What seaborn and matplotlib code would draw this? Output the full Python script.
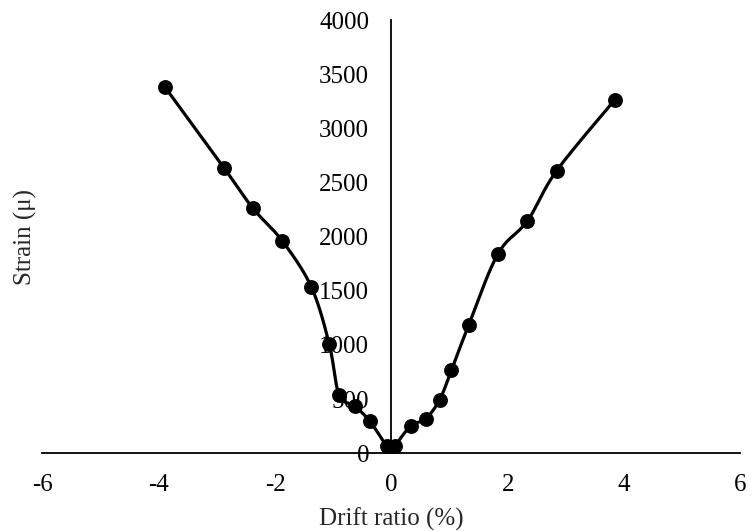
import numpy as np
import pandas as pd
import matplotlib
matplotlib.use("Agg")
import matplotlib.pyplot as plt
import seaborn as sns

# data (drift ratio %, strain micro)
drift = [-3.9, -2.88, -2.38, -1.88, -1.38, -1.07, -0.9, -0.63, -0.37, -0.08, 0.0,
         0.06, 0.33, 0.59, 0.83, 1.03, 1.33, 1.83, 2.34, 2.84, 3.84]
strain = [3385, 2636, 2261, 1963, 1539, 1011, 541, 436, 295, 64, 5,
          65, 252, 320, 495, 765, 1186, 1840, 2147, 2608, 3263]
xticks = [-6, -4, -2, 0, 2, 4, 6]
yticks = [0, 500, 1000, 1500, 2000, 2500, 3000, 3500, 4000]

df = pd.DataFrame({"drift": drift, "strain": strain})

sns.set_style("white")
plt.rcParams['font.family'] = ['Liberation Serif', 'DejaVu Serif']
plt.rcParams['axes.unicode_minus'] = False


def smooth(x, y, n=20):
    # catmull-rom style curve through the points (like Excel smoothed line)
    x = np.asarray(x, float); y = np.asarray(y, float)
    px = np.concatenate([[x[0]], x, [x[-1]]])
    py = np.concatenate([[y[0]], y, [y[-1]]])
    xs, ys = [], []
    t = np.linspace(0, 1, n)
    for i in range(1, len(px) - 2):
        p0, p1, p2, p3 = [np.array([px[j], py[j]]) for j in (i - 1, i, i + 1, i + 2)]
        c1 = p1 + (p2 - p0) / 6
        c2 = p2 - (p3 - p1) / 6
        pts = ((1 - t) ** 3)[:, None] * p1 + (3 * (1 - t) ** 2 * t)[:, None] * c1 \
            + (3 * (1 - t) * t ** 2)[:, None] * c2 + (t ** 3)[:, None] * p2
        xs.extend(pts[:, 0]); ys.extend(pts[:, 1])
    return np.array(xs), np.array(ys)


fig = plt.figure(figsize=(7.52, 5.31), dpi=100)
ax = fig.add_axes([0.0565, 0.1463, 0.928, 0.816])

sx, sy = smooth(df["drift"], df["strain"])
ax.plot(sx, sy, color="black", lw=2.3, zorder=2)
sns.scatterplot(data=df, x="drift", y="strain", ax=ax, color="black", s=115,
                edgecolor="black", linewidth=0, zorder=3)

ax.set_xlim(-6, 6)
ax.set_ylim(0, 4000)
ax.set_xticks(xticks)
ax.set_yticks(yticks)
ax.spines['left'].set_position(('data', 0))
ax.spines['top'].set_visible(False)
ax.spines['right'].set_visible(False)
for s in ['left', 'bottom']:
    ax.spines[s].set_color("black")
    ax.spines[s].set_linewidth(1.3)
ax.tick_params(axis='y', direction='in', length=6, width=1.3, pad=16,
               labelsize=18, colors='black')
ax.tick_params(axis='x', length=0, pad=15, labelsize=18, colors='black')

ax.set_xlabel("Drift ratio (%)", fontsize=18)
ax.set_ylabel("Strain (μ)", fontsize=18)
ax.xaxis.set_label_coords(0.5, -0.126)
ax.yaxis.set_label_coords(-0.008, 0.5)

fig.savefig("out.png", dpi=100)
